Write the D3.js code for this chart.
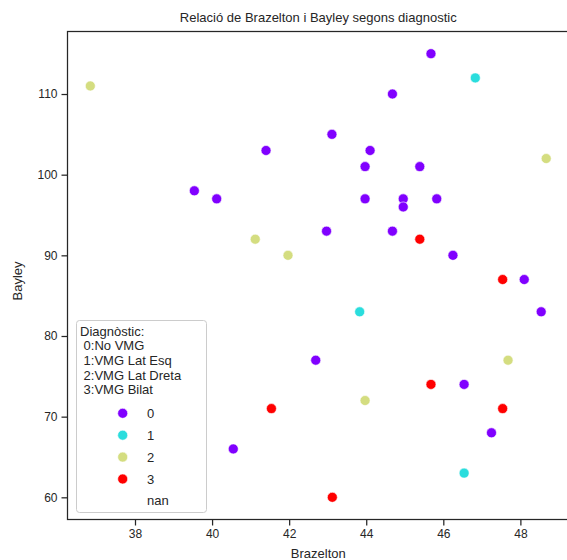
<!DOCTYPE html>
<html>
<head>
<meta charset="utf-8">
<script src="https://cdn.jsdelivr.net/npm/d3@7"></script>
<style>
  html, body { margin: 0; padding: 0; background: #fff; overflow: hidden; }
  svg { display: block; font-family: "Liberation Sans", Arial, sans-serif; }
</style>
</head>
<body>
<svg id="chart" width="567" height="560"></svg>
<script>
// Brazelton score, Bayley score and diagnostic group for each child
const brazelton = [45.68, 46.83, 44.68, 48.67, 45.39, 44.96, 44.96, 45.83, 44.68, 45.39,
                   46.25, 47.54, 48.10, 48.54, 36.84, 41.40, 39.54, 40.12, 41.12, 41.97,
                   43.11, 44.10, 43.97, 43.97, 42.97, 43.83, 42.69, 43.97, 41.54, 40.55,
                   43.12, 47.68, 45.68, 46.54, 47.54, 47.25, 46.54];
const bayley    = [115, 112, 110, 102, 101, 97, 96, 97, 93, 92,
                   90, 87, 87, 83, 111, 103, 98, 97, 92, 90,
                   105, 103, 101, 97, 93, 83, 77, 72, 71, 66,
                   60, 77, 74, 74, 71, 68, 63];
const diagnostic = [0, 1, 0, 2, 0, 0, 0, 0, 0, 3,
                    0, 3, 0, 0, 2, 0, 0, 0, 2, 2,
                    0, 0, 0, 0, 0, 1, 0, 2, 3, 0,
                    3, 2, 3, 0, 3, 0, 1];

const groups = [0, 1, 2, 3];
const groupColors = ["#8000ff", "#2adddd", "#d4dd80", "#ff0000"];
const legendTitle = ["Diagnòstic:", " 0:No VMG", " 1:VMG Lat Esq", " 2:VMG Lat Dreta", " 3:VMG Bilat"];
const legendLabels = ["0", "1", "2", "3", "nan"];
const xTicks = [38, 40, 42, 44, 46, 48];
const yTicks = [60, 70, 80, 90, 100, 110];

const title = "Relació de Brazelton i Bayley segons diagnostic";
const xLabel = "Brazelton";
const yLabel = "Bayley";

const svg = d3.select("#chart");
const plot = { left: 67.5, right: 569, top: 31.5, bottom: 519.5 };
const ink = "#262626";

// axis limits padded by 5% of the data range
const xExt = d3.extent(brazelton), yExt = d3.extent(bayley);
const xPad = (xExt[1] - xExt[0]) * 0.05, yPad = (yExt[1] - yExt[0]) * 0.05;
const x = d3.scaleLinear().domain([xExt[0] - xPad, xExt[1] + xPad]).range([plot.left, plot.right]);
const y = d3.scaleLinear().domain([yExt[0] - yPad, yExt[1] + yPad]).range([plot.bottom, plot.top]);
const color = d3.scaleOrdinal().domain(groups).range(groupColors);

// title
svg.append("text")
  .attr("x", (plot.left + plot.right) / 2).attr("y", 22)
  .attr("text-anchor", "middle").attr("font-size", 13).attr("fill", ink)
  .text(title);

// axes
const xAxis = svg.append("g").attr("transform", `translate(0,${plot.bottom})`)
  .call(d3.axisBottom(x).tickValues(xTicks).tickSize(6).tickPadding(4).tickSizeOuter(0));
const yAxis = svg.append("g").attr("transform", `translate(${plot.left},0)`)
  .call(d3.axisLeft(y).tickValues(yTicks).tickSize(6).tickPadding(4).tickSizeOuter(0));
[xAxis, yAxis].forEach(g => {
  g.select(".domain").remove();
  g.selectAll(".tick line").attr("stroke", ink).attr("stroke-width", 1.25);
  g.selectAll(".tick text").attr("fill", ink).attr("font-size", 12)
    .attr("font-family", "'Liberation Sans', Arial, sans-serif");
});

// frame
svg.append("rect")
  .attr("x", plot.left).attr("y", plot.top)
  .attr("width", plot.right - plot.left).attr("height", plot.bottom - plot.top)
  .attr("fill", "none").attr("stroke", ink).attr("stroke-width", 1.25);

// axis labels
svg.append("text")
  .attr("x", (plot.left + plot.right) / 2).attr("y", 558)
  .attr("text-anchor", "middle").attr("font-size", 13).attr("fill", ink)
  .text(xLabel);
svg.append("text")
  .attr("transform", `translate(22,281) rotate(-90)`)
  .attr("text-anchor", "middle").attr("font-size", 13).attr("fill", ink)
  .text(yLabel);

// points
svg.append("g").selectAll("circle")
  .data(brazelton.map((b, i) => ({ b, v: bayley[i], d: diagnostic[i] })))
  .join("circle")
  .attr("cx", d => x(d.b)).attr("cy", d => y(d.v)).attr("r", 5)
  .attr("fill", d => color(d.d)).attr("stroke", "#fff").attr("stroke-width", 0.6);

// legend
const lg = svg.append("g");
lg.append("rect")
  .attr("x", 76.5).attr("y", 320.5).attr("width", 130).attr("height", 192)
  .attr("rx", 3).attr("fill", "#fff").attr("fill-opacity", 0.8)
  .attr("stroke", "#cccccc").attr("stroke-width", 1);
lg.selectAll("text.title").data(legendTitle).join("text")
  .attr("class", "title")
  .attr("x", 80).attr("y", (d, i) => 335.5 + i * 14.7)
  .attr("font-size", 13).attr("fill", ink)
  .style("white-space", "pre").attr("xml:space", "preserve")
  .text(d => d);
const entries = lg.selectAll("g.entry").data(legendLabels).join("g")
  .attr("class", "entry")
  .attr("transform", (d, i) => `translate(0,${413.3 + i * 21.9})`);
entries.filter((d, i) => i < groups.length).append("circle")
  .attr("cx", 122.7).attr("cy", 0).attr("r", 5)
  .attr("fill", (d, i) => groupColors[i]).attr("stroke", "#fff").attr("stroke-width", 0.6);
entries.append("text")
  .attr("x", 147).attr("y", 4.5)
  .attr("font-size", 13).attr("fill", ink)
  .text(d => d);
</script>
</body>
</html>
